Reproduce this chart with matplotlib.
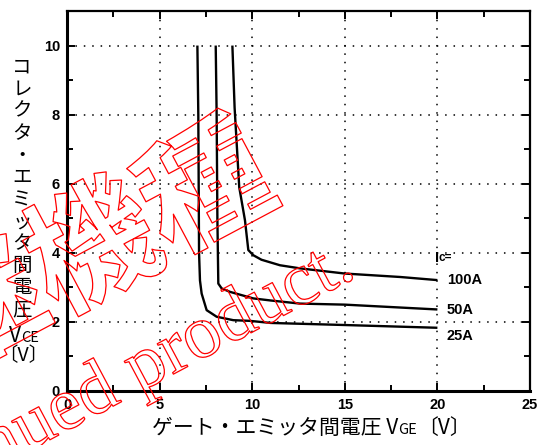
import matplotlib
matplotlib.use("Agg")
import matplotlib.pyplot as plt
import matplotlib.patheffects as pe
from matplotlib.ticker import MultipleLocator

plt.rcParams["font.family"] = ["Noto Sans CJK JP", "DejaVu Sans"]

# curves (Vge [V], Vce [V])
vge_25a = [7.04, 7.09, 7.13, 7.18, 7.27, 7.54, 8.08, 8.98, 9.88, 11.0, 15.0, 20.0]
vce_25a = [10.0, 8.0, 4.0, 3.2, 2.82, 2.34, 2.15, 2.05, 2.03, 1.97, 1.91, 1.83]

vge_50a = [8.03, 8.08, 8.12, 8.17, 8.35, 8.8, 10.06, 11.0, 12.58, 15.0, 20.0]
vce_50a = [10.0, 8.0, 5.0, 3.11, 2.97, 2.87, 2.68, 2.62, 2.53, 2.50, 2.36]

vge_100a = [8.93, 9.05, 9.3, 9.61, 9.79, 10.06, 10.5, 11.5, 12.58, 15.0, 18.0, 20.0]
vce_100a = [10.0, 8.2, 5.9, 4.94, 4.08, 3.93, 3.80, 3.64, 3.55, 3.40, 3.30, 3.21]

curve_labels = ["100A", "50A", "25A"]
label_y = [3.2, 2.34, 1.59]

ylabel_chars = list("コレクタ・エミッタ間電圧")
xlabel_text = "ゲート・エミッタ間電圧 V"

num_font = ["Liberation Sans Narrow", "Liberation Sans"]
W, H = 539, 445

fig = plt.figure(figsize=(W / 100, H / 100), dpi=100)
ax = fig.add_axes([67 / W, 1 - 391 / H, 463 / W, 380 / H])

for xs, ys in [(vge_25a, vce_25a), (vge_50a, vce_50a), (vge_100a, vce_100a)]:
    ax.plot(xs, ys, color="black", lw=1.7, solid_capstyle="butt")

ax.set_xlim(0, 25)
ax.set_ylim(0, 11)
ax.xaxis.set_major_locator(MultipleLocator(5))
ax.xaxis.set_minor_locator(MultipleLocator(2.5))
ax.yaxis.set_minor_locator(MultipleLocator(1))
ax.set_yticks([0, 2, 4, 6, 8, 10])

ax.grid(True, which="major", color="black", linestyle=(0, (1, 4.5)), lw=1.1)
ax.tick_params(which="both", direction="in", top=True, right=True, width=1.4)
ax.tick_params(which="major", length=6, pad=5)
ax.tick_params(which="minor", length=4)
for s in ax.spines.values():
    s.set_linewidth(1.6)
ax.spines["left"].set_linewidth(2.2)
ax.spines["bottom"].set_linewidth(2.2)

for lab in ax.get_xticklabels() + ax.get_yticklabels():
    lab.set_family(num_font)
    lab.set_fontweight("bold")
    lab.set_fontsize(10.5)

# curve labels
ic = ax.text(19.85, 3.85, "I", fontsize=10.5, fontweight="bold", va="center", family=num_font)
ax.annotate("c=", xy=(1, 0.1), xycoords=ic, va="bottom", fontsize=8.5, fontweight="bold",
            family=num_font, annotation_clip=False)
for lab, y in zip(curve_labels, label_y):
    ax.text(20.5, y, lab, fontsize=10.5, fontweight="bold", va="center", family=num_font)


def chain(prev, txt, base_px, size):
    # put txt right after prev, on the same baseline
    fig.canvas.draw()
    x1 = prev.get_window_extent().x1
    return fig.text(x1 / W, 1 - base_px / H, txt, fontsize=size, ha="left", va="baseline")


# x label
xl = fig.text(152 / W, 1 - 434 / H, xlabel_text, fontsize=15, ha="left", va="baseline")
sub = chain(xl, "GE", 434, 10.5)
chain(sub, "〔V〕", 434, 15)

# y label, stacked vertically
for i, ch in enumerate(ylabel_chars):
    fig.text(22 / W, 1 - (67 + 22.1 * i) / H, ch, fontsize=14, ha="center", va="center")
yv = fig.text(9 / W, 1 - 342 / H, "V", fontsize=15, ha="left", va="baseline")
chain(yv, "CE", 342, 10.5)
fig.text(23 / W, 1 - 356 / H, "〔V〕", fontsize=14, ha="center", va="center")

# red outline watermark
wm = dict(color="none", rotation=28, rotation_mode="anchor",
          path_effects=[pe.Stroke(linewidth=0.9, foreground="red")])
fig.text(264 / W, 1 - 163 / H, "後継機種", fontsize=92, fontweight="bold",
         ha="right", va="center", **wm)
fig.text(358 / W, 1 - 276 / H, "Discontinued product.", fontsize=54,
         family="Liberation Serif", ha="right", va="baseline", **wm)

fig.savefig("out.png", dpi=100)
